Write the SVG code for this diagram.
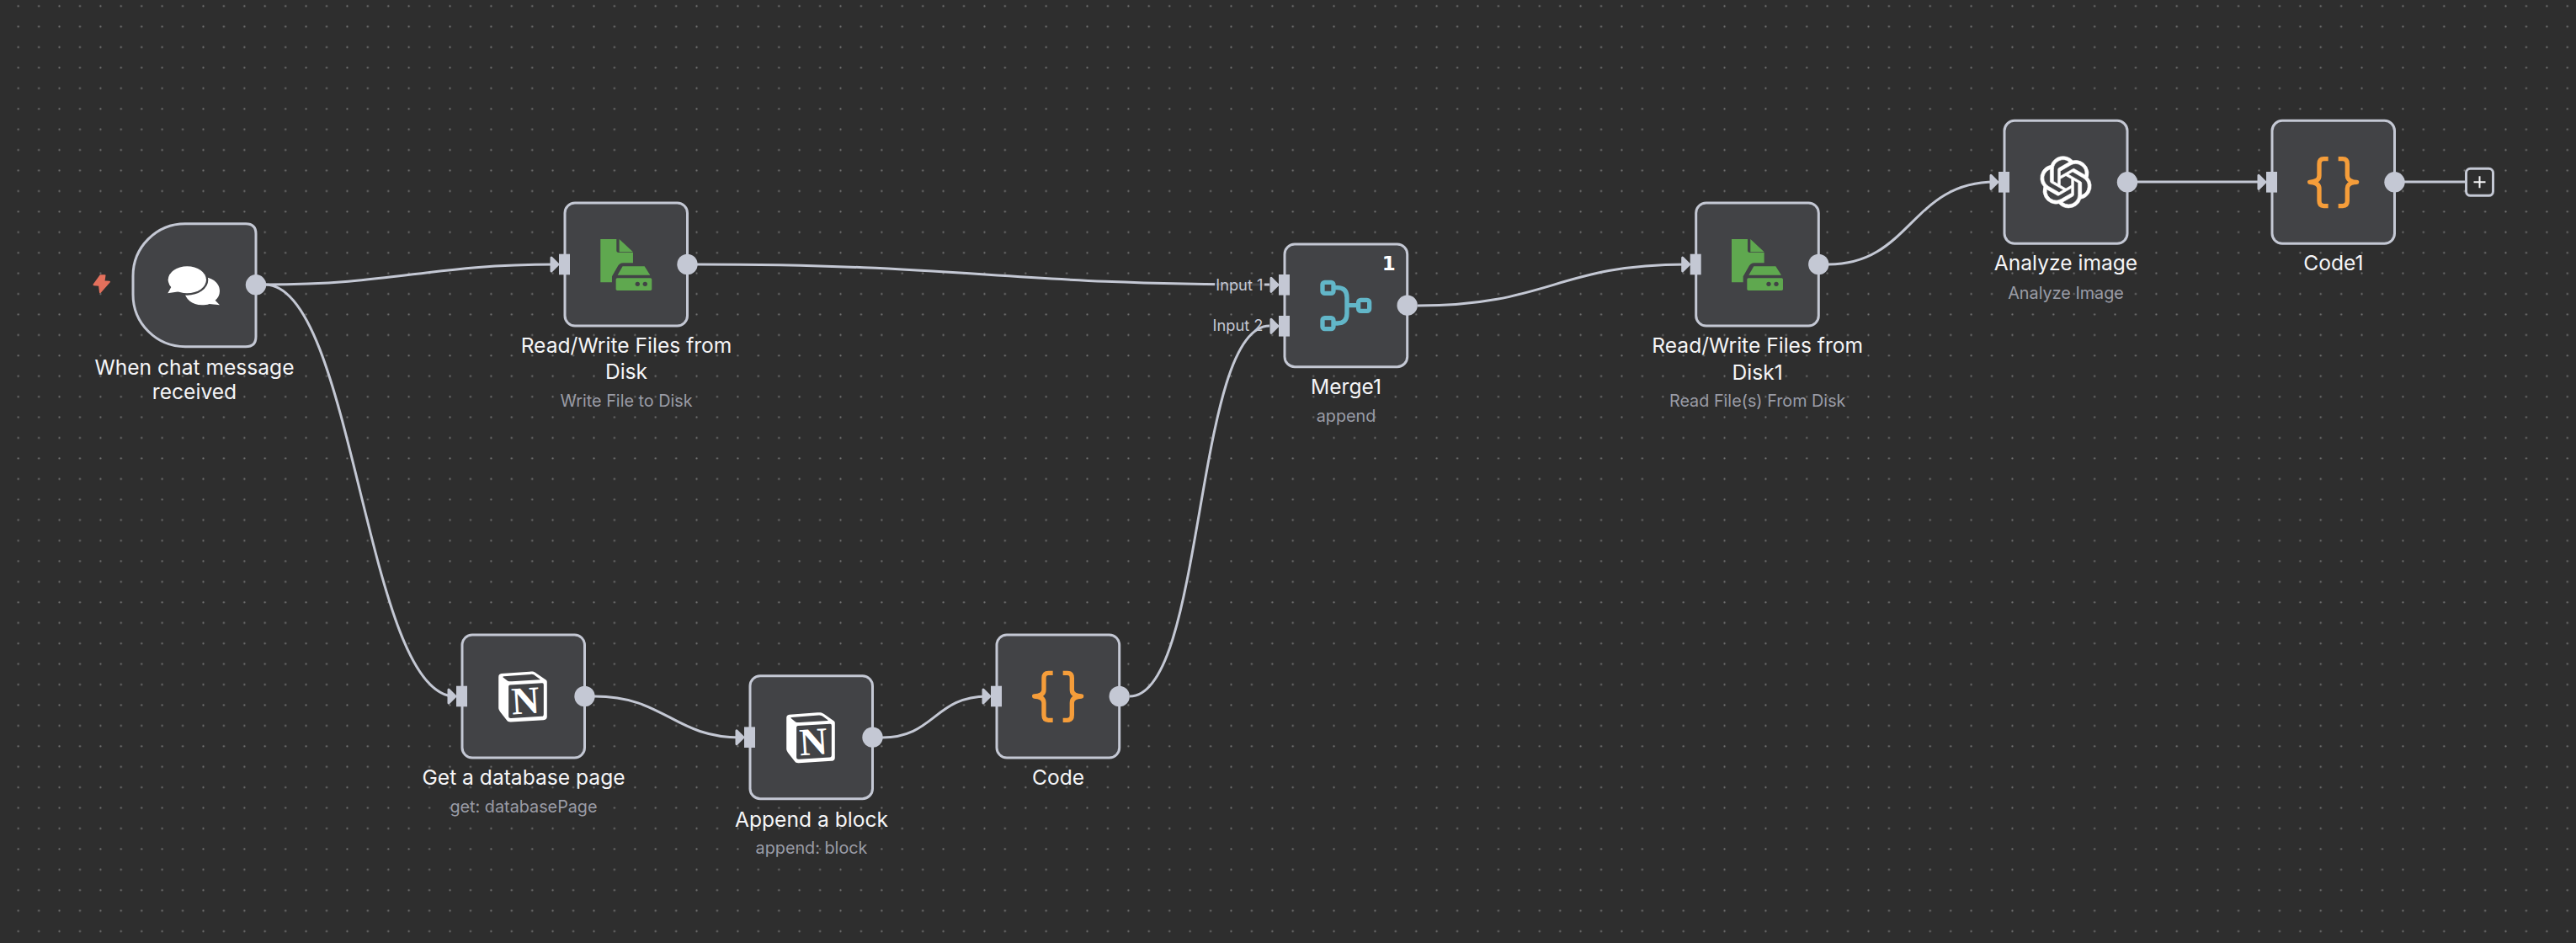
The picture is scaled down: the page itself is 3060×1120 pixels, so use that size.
<svg xmlns="http://www.w3.org/2000/svg" width="3060" height="1120" viewBox="0 0 3060 1120">
<style>
text{font-family:Inter,"Noto Sans","Liberation Sans",sans-serif}
.box{fill:#424346;stroke:#c4c8d4;stroke-width:3}
.port{fill:#c4c8d4}
.arrow{fill:#c4c8d4;stroke:#c4c8d4;stroke-width:3;stroke-linejoin:round}
.wire{fill:none;stroke:#c4c8d4;stroke-width:3}
.name{fill:#f5f5f7;font-size:24.6px;text-anchor:middle}
.sub{fill:#9a9ca6;font-size:19.8px;text-anchor:middle}
.inlabel{fill:#c4c8d4;font-size:18.3px;text-anchor:end}
</style>
<defs>
<pattern id="grid" patternUnits="userSpaceOnUse" width="24.42" height="24.42" x="9.5" y="-4.9">
<circle cx="12.2" cy="12.2" r="1.1" fill="#757575"/>
</pattern>
<g id="in">
<rect class="port" x="-7" y="-12.3" width="13" height="24.6"/>
<path class="arrow" d="M-16 -8 L-8 0 L-16 8 Z"/>
</g>
<circle id="out" class="port" r="12.2"/>
<g id="ic-file" transform="translate(-34.7,-21) scale(.3333)">
<path fill="#5fa84f" d="M231 192H288V232Q288 240 296 240H347V277H312Q298 277 290 293L272 325V346H231Z"/>
<path fill="#5fa84f" d="M298 192L347 238H298Z"/>
<path fill="#5fa84f" d="M310 289H388L408 320H292Z"/>
<rect x="286" y="331" width="128" height="44" rx="5" fill="#5fa84f"/>
<circle cx="363" cy="352" r="8" fill="#424346"/>
<circle cx="390" cy="352" r="8" fill="#424346"/>
</g>
<g id="ic-code" transform="translate(-44,-24) scale(.3333)">
<path fill="none" stroke="#f59d3a" stroke-width="16" stroke-linejoin="round" d="M332 208H316Q300 208 300 226V268Q300 290 266 291Q300 292 300 314V358Q300 376 316 376H332"/>
<path fill="none" stroke="#f59d3a" stroke-width="16" stroke-linejoin="round" d="M368 208H384Q400 208 400 226V268Q400 290 434 291Q400 292 400 314V358Q400 376 384 376H368"/>
</g>
<g id="ic-notion">
<path fill="#fff" fill-rule="evenodd" transform="translate(42,43.5) scale(2.5)" d="M4.459 4.208c.746.606 1.026.56 2.428.466l13.215-.793c.28 0 .047-.28-.046-.326L17.86 1.968c-.42-.326-.981-.7-2.055-.607L3.01 2.295c-.466.046-.56.28-.374.466zm.793 3.08v13.904c0 .747.373 1.027 1.214.98l14.523-.84c.841-.046.935-.56.935-1.167V6.354c0-.606-.233-.933-.748-.887l-15.177.887c-.56.047-.747.327-.747.933zM1.936 1.035l13.31-.98c1.634-.14 2.055-.047 3.082.7l4.249 2.986c.7.513.934.653.934 1.213v16.378c0 1.026-.373 1.634-1.68 1.726l-15.458.934c-.98.047-1.448-.093-1.962-.747l-3.129-4.06c-.56-.747-.793-1.306-.793-1.96V2.667c0-.839.374-1.54 1.447-1.632z"/>
<text transform="translate(76,93.5) rotate(-3.5)" text-anchor="middle" style="font-family:'Liberation Serif',serif;font-weight:700;font-size:46px" fill="#fff">N</text>
</g>
</defs>
<rect width="3060" height="1120" fill="#2e2e2e"/>
<rect width="3060" height="1120" fill="url(#grid)"/>

<g id="connectors">
<path class="wire" d="M315 338C470 338 510 314 660 314"/>
<path class="wire" d="M315 338C420 338 435 827 540 827"/>
<path class="wire" d="M828 314C1150 314 1190 338 1508 338"/>
<path class="wire" d="M1684 363C1840 363 1850 314 2003 314"/>
<path class="wire" d="M2172 314C2270 314 2270 216 2370 216"/>
<path class="wire" d="M2539 216H2688"/>
<path class="wire" d="M2856 216H2930"/>
<path class="wire" d="M706 827C790 827 800 876 880 876"/>
<path class="wire" d="M1048 876C1110 876 1110 827 1173 827"/>
<path class="wire" d="M1342 827C1432 827 1418 387 1508 387"/>
</g>

<g id="trigger" transform="translate(158,265.7)">
<path class="box" d="M62 0H134Q146 0 146 12V134Q146 146 134 146H62A62 62 0 0 1 0 84V62A62 62 0 0 1 62 0Z"/>
<path fill="#e4705c" stroke="#e4705c" stroke-width="2" stroke-linejoin="round" d="M-38.5 61.5L-46.5 72.5L-40 73L-39 81.5L-28 69L-34.5 68.5L-33.5 61.5Z"/>
<g transform="translate(32,39.3) scale(.3333)">
<path fill="#fff" d="M88 122C88 92 115 72 150 72C185 72 213 92 213 122C213 136 207 147 197 155L213 172L176 168C168 171 159 172 150 172C115 172 88 150 88 122Z"/>
<ellipse cx="97" cy="82" rx="68" ry="48" fill="#fff" stroke="#424346" stroke-width="14" paint-order="stroke"/>
<path fill="#fff" d="M42 104L28 130L68 124Z"/>
</g>
<use href="#out" x="146" y="72.6"/>
<text class="name" x="73" y="179.3">When chat message</text>
<text class="name" x="73" y="208.3">received</text>
</g>

<g id="write-file" transform="translate(671,241)">
<rect class="box" width="145.5" height="146" rx="12"/>
<use href="#ic-file"/>
<use href="#in" y="73"/>
<use href="#out" x="145.5" y="73"/>
<text class="name" x="73" y="178.3">Read/Write Files from</text>
<text class="name" x="73" y="209">Disk</text>
<text class="sub" x="73" y="242">Write File to Disk</text>
</g>

<g id="get-page" transform="translate(549,754)">
<rect class="box" width="145.5" height="146" rx="12"/>
<use href="#ic-notion"/>
<use href="#in" y="73"/>
<use href="#out" x="145.5" y="73"/>
<text class="name" x="73" y="177.7">Get a database page</text>
<text class="sub" x="73" y="211">get: databasePage</text>
</g>

<g id="append-block" transform="translate(891,802.7)">
<rect class="box" width="145.5" height="146" rx="12"/>
<use href="#ic-notion"/>
<use href="#in" y="73"/>
<use href="#out" x="145.5" y="73"/>
<text class="name" x="73" y="179">Append a block</text>
<text class="sub" x="73" y="211.3">append: block</text>
</g>

<g id="code" transform="translate(1184,754)">
<rect class="box" width="145.7" height="146" rx="12"/>
<use href="#ic-code"/>
<use href="#in" y="73"/>
<use href="#out" x="145.7" y="73"/>
<text class="name" x="73" y="177.7">Code</text>
</g>

<g id="merge" transform="translate(1526,290)">
<rect class="box" width="145.7" height="145.7" rx="12"/>
<g transform="translate(-126,-30) scale(.3333)" fill="none" stroke="#62b6c8" stroke-width="16">
<rect x="513" y="226" width="39" height="39" rx="8"/>
<rect x="513" y="353" width="39" height="39" rx="8"/>
<rect x="641" y="289" width="39" height="39" rx="8"/>
<path d="M552 245H566Q600 245 600 280V337Q600 372 566 372H552M600 308H641"/>
</g>
<text x="123.7" y="31" text-anchor="middle" style="font-family:'DejaVu Sans',sans-serif;font-weight:700;font-size:23px" fill="#fff">1</text>
<use href="#in" y="48.3"/>
<use href="#in" y="97.3"/>
<use href="#out" x="145.7" y="72.7"/>
<rect x="-83" y="36" width="59" height="24" fill="#2e2e2e" opacity=".85"/>
<text class="inlabel" x="-25.5" y="54.7">Input 1</text>
<text class="inlabel" x="-25.5" y="103.3">Input 2</text>
<text class="name" x="73" y="178">Merge1</text>
<text class="sub" x="73" y="210.7">append</text>
</g>

<g id="read-file" transform="translate(2014.7,241)">
<rect class="box" width="145.6" height="146" rx="12"/>
<use href="#ic-file"/>
<use href="#in" y="73"/>
<use href="#out" x="145.6" y="73"/>
<text class="name" x="73" y="178.3">Read/Write Files from</text>
<text class="name" x="73" y="209.7">Disk1</text>
<text class="sub" x="73" y="242">Read File(s) From Disk</text>
</g>

<g id="analyze" transform="translate(2381,143.3)">
<rect class="box" width="146" height="146" rx="12"/>
<path fill="#fff" stroke="#fff" stroke-width=".25" transform="translate(42.4,42.4) scale(2.55)" d="M22.2819 9.8211a5.9847 5.9847 0 0 0-.5157-4.9108 6.0462 6.0462 0 0 0-6.5098-2.9A6.0651 6.0651 0 0 0 4.9807 4.1818a5.9847 5.9847 0 0 0-3.9977 2.9 6.0462 6.0462 0 0 0 .7427 7.0966 5.98 5.98 0 0 0 .511 4.9107 6.051 6.051 0 0 0 6.5146 2.9001A5.9847 5.9847 0 0 0 13.2599 24a6.0557 6.0557 0 0 0 5.7718-4.2058 5.9894 5.9894 0 0 0 3.9977-2.9001 6.0557 6.0557 0 0 0-.7475-7.0729zm-9.022 12.6081a4.4755 4.4755 0 0 1-2.8764-1.0408l.1419-.0804 4.7783-2.7582a.7948.7948 0 0 0 .3927-.6813v-6.7369l2.02 1.1686a.071.071 0 0 1 .038.052v5.5826a4.504 4.504 0 0 1-4.4945 4.4944zm-9.6607-4.1254a4.4708 4.4708 0 0 1-.5346-3.0137l.142.0852 4.783 2.7582a.7712.7712 0 0 0 .7806 0l5.8428-3.3685v2.3324a.0804.0804 0 0 1-.0332.0615L9.74 19.9502a4.4992 4.4992 0 0 1-6.1408-1.6464zM2.3408 7.8956a4.485 4.485 0 0 1 2.3655-1.9728V11.6a.7664.7664 0 0 0 .3879.6765l5.8144 3.3543-2.0201 1.1685a.0757.0757 0 0 1-.071 0l-4.8303-2.7865A4.504 4.504 0 0 1 2.3408 7.872zm16.5963 3.8558L13.1038 8.364 15.1192 7.2a.0757.0757 0 0 1 .071 0l4.8303 2.7913a4.4944 4.4944 0 0 1-.6765 8.1042v-5.6772a.79.79 0 0 0-.407-.667zm2.0107-3.0231l-.142-.0852-4.7735-2.7818a.7759.7759 0 0 0-.7854 0L9.409 9.2297V6.8974a.0662.0662 0 0 1 .0284-.0615l4.8303-2.7866a4.4992 4.4992 0 0 1 6.6802 4.66zM8.3065 12.863l-2.02-1.1638a.0804.0804 0 0 1-.038-.0567V6.0742a4.4992 4.4992 0 0 1 7.3757-3.4537l-.142.0805L8.704 5.459a.7948.7948 0 0 0-.3927.6813zm1.0976-2.3654l2.602-1.4998 2.6069 1.4998v2.9994l-2.5974 1.4997-2.6067-1.4997Z"/>
<use href="#in" y="73"/>
<use href="#out" x="146" y="73"/>
<text class="name" x="73" y="177.7">Analyze image</text>
<text class="sub" x="73" y="211.7">Analyze Image</text>
</g>

<g id="code1" transform="translate(2699,143.3)">
<rect class="box" width="145.5" height="146" rx="12"/>
<use href="#ic-code"/>
<use href="#in" y="73"/>
<use href="#out" x="145.5" y="73"/>
<text class="name" x="73" y="177.7">Code1</text>
</g>

<g id="add" transform="translate(2929.5,200.3)">
<rect width="32" height="32" rx="5" fill="#2e2e2e" stroke="#c4c8d4" stroke-width="3"/>
<path d="M16 9V23M9 16H23" stroke="#f5f5f7" stroke-width="2" fill="none"/>
</g>
</svg>
